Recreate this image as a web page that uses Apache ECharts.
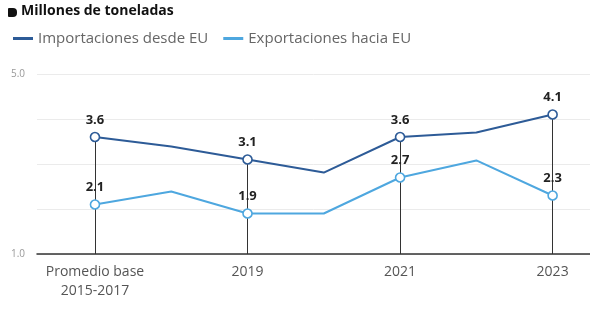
<!DOCTYPE html>
<html>
<head>
<meta charset="utf-8">
<style>
  html, body { margin: 0; padding: 0; background: #fff; }
  #chart { width: 590px; height: 309px; }
</style>
<script src="https://cdn.jsdelivr.net/npm/echarts@6/dist/echarts.min.js"></script>
</head>
<body>
<div id="chart"></div>
<script>
// data
const categories = ["Promedio base\n2015-2017", "2018", "2019", "2020", "2021", "2022", "2023"];
const labeledIdx = [0, 2, 4, 6];
const importaciones = [3.6, 3.39, 3.1, 2.81, 3.6, 3.7, 4.1];
const exportaciones = [2.1, 2.39, 1.9, 1.9, 2.7, 3.08, 2.3];
const yTicks = [1, 5];

const FONT = "Open Sans";
const IMP_COLOR = "#2d5b97";
const EXP_COLOR = "#4ea7df";

const chart = echarts.init(document.getElementById("chart"));

function pairs(arr) {
  return arr.map((v, i) => [i, v]);
}

// vertical drop lines from the upper marker to the axis
const dropLines = labeledIdx.map((i) => [
  { coord: [i, Math.max(importaciones[i], exportaciones[i])] },
  { coord: [i, 1] },
]);

function lineSeries(name, values, color) {
  return {
    name: name,
    type: "line",
    z: 3,
    data: pairs(values),
    symbol: (v, p) => (labeledIdx.includes(p.dataIndex) ? "circle" : "none"),
    symbolSize: 9,
    itemStyle: { color: "#fff", borderColor: color, borderWidth: 1.6 },
    lineStyle: { color: color, width: 2 },
    label: {
      show: true,
      position: "top",
      distance: 5,
      color: "#222",
      fontFamily: FONT,
      fontWeight: "bold",
      fontSize: 13,
      formatter: (p) => (labeledIdx.includes(p.dataIndex) ? p.value[1].toFixed(1) : ""),
    },
    emphasis: { disabled: true },
    animation: false,
  };
}

chart.setOption({
  textStyle: { fontFamily: FONT },
  graphic: [
    {
      type: "rect",
      left: 8,
      top: 8,
      shape: { width: 9, height: 9, r: [1, 4, 4, 1] },
      style: { fill: "#111" },
    },
    {
      type: "text",
      left: 21,
      top: 4,
      style: { text: "Millones de toneladas", fill: "#111", font: "bold 14px 'Open Sans'" },
    },
  ],
  legend: {
    left: 8,
    top: 26,
    icon: "rect",
    itemWidth: 20,
    itemHeight: 3,
    itemGap: 15,
    textStyle: { color: "#666", fontSize: 15, fontFamily: FONT },
    data: [
      { name: "Importaciones desde EU", itemStyle: { color: IMP_COLOR, borderWidth: 0 } },
      { name: "Exportaciones hacia EU", itemStyle: { color: EXP_COLOR, borderWidth: 0 } },
    ],
  },
  grid: { left: 37, right: 0, top: 74, bottom: 55 },
  xAxis: {
    type: "value",
    min: -0.76,
    max: 6.49,
    axisLine: { show: true, onZero: false, lineStyle: { color: "#333", width: 1.5 } },
    axisTick: { show: false },
    splitLine: { show: false },
    axisLabel: {
      customValues: labeledIdx,
      formatter: (v) => categories[v],
      color: "#555",
      fontSize: 14,
      lineHeight: 19,
      margin: 9,
      fontFamily: FONT,
    },
  },
  yAxis: {
    type: "value",
    min: 1,
    max: 5,
    interval: 1,
    axisLine: { show: false },
    axisTick: { show: false },
    splitLine: { lineStyle: { color: "#ebebeb", width: 1 } },
    axisLabel: {
      color: "#999",
      fontSize: 10,
      margin: 12,
      fontFamily: FONT,
      formatter: (v) => (yTicks.includes(v) ? v.toFixed(1) : ""),
    },
  },
  series: [
    {
      name: "drop",
      type: "line",
      z: 1,
      data: [],
      silent: true,
      markLine: {
        z: 1,
        silent: true,
        symbol: "none",
        label: { show: false },
        lineStyle: { color: "#333", width: 1, type: "solid" },
        emphasis: { disabled: true },
        data: dropLines,
        animation: false,
      },
    },
    lineSeries("Importaciones desde EU", importaciones, IMP_COLOR),
    lineSeries("Exportaciones hacia EU", exportaciones, EXP_COLOR),
  ],
});
</script>
</body>
</html>
